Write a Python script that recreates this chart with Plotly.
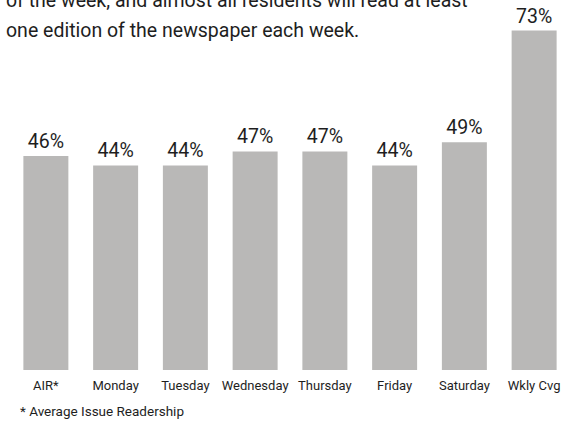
import plotly.graph_objects as go

categories = ["AIR*", "Monday", "Tuesday", "Wednesday", "Thursday", "Friday", "Saturday", "Wkly Cvg"]
values = [46, 44, 44, 47, 47, 44, 49, 73]
labels = [f"{v}%" for v in values]

title_line1 = "of the week, and almost all residents will read at least"
title_line2 = "one edition of the newspaper each week."
footnote = "* Average Issue Readership"

FONT = "Roboto"
TXT = "#1e1e1e"

fig = go.Figure(go.Bar(
    x=categories, y=values, text=labels, textposition="outside",
    cliponaxis=False,
    marker=dict(color="#b9b8b7", line=dict(width=0)),
    textfont=dict(family=FONT, size=19.5, color=TXT),
))

fig.update_layout(
    width=573, height=427,
    margin=dict(l=11, r=4, t=0, b=57),
    paper_bgcolor="white", plot_bgcolor="white",
    bargap=0.355, showlegend=False,
    font=dict(family=FONT, color=TXT),
    xaxis=dict(showline=False, showgrid=False, zeroline=False, ticks="",
               tickfont=dict(family=FONT, size=13, color=TXT),
               ticklabelstandoff=6),
    yaxis=dict(visible=False, range=[0, 370 / 4.65]),
    uniformtext=dict(mode=False),
    annotations=[
        dict(text=title_line1, xref="paper", yref="paper", x=-11/560, y=1 - 1/370,
             xanchor="left", yanchor="middle", showarrow=False, xshift=4,
             font=dict(family=FONT, size=19.5, color=TXT)),
        dict(text=title_line2, xref="paper", yref="paper", x=-11/560, y=1 - 30/370,
             xanchor="left", yanchor="middle", showarrow=False, xshift=4,
             font=dict(family=FONT, size=19.5, color=TXT)),
        dict(text=footnote, xref="paper", yref="paper", x=-11/560, y=-41/370,
             xanchor="left", yanchor="middle", showarrow=False, xshift=18,
             font=dict(family=FONT, size=13.5, color=TXT)),
    ],
)

fig.write_html("out.html")
